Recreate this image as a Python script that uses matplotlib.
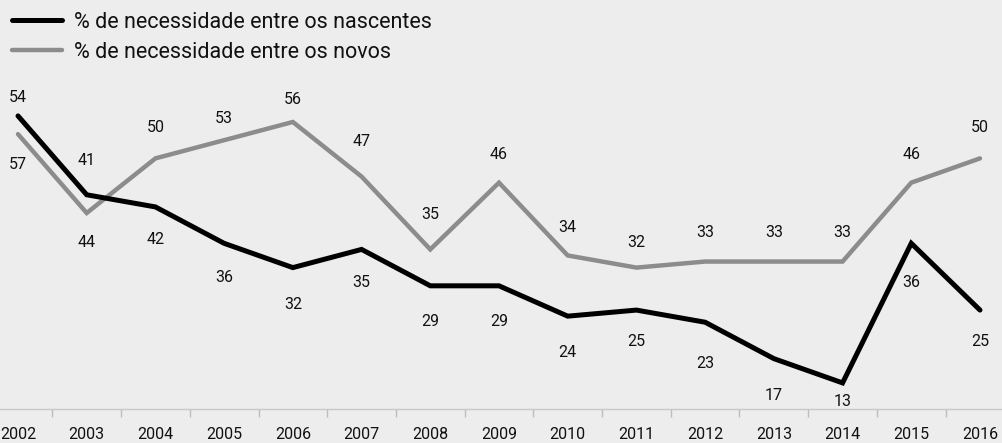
import matplotlib.pyplot as plt
import numpy as np

plt.rcParams['font.family'] = ['Roboto', 'DejaVu Sans']

anos = [2002, 2003, 2004, 2005, 2006, 2007, 2008, 2009, 2010, 2011, 2012, 2013, 2014, 2015, 2016]
nascentes = [57, 44, 42, 36, 32, 35, 29, 29, 24, 25, 23, 17, 13, 36, 25]
novos = [54, 41, 50, 53, 56, 47, 35, 46, 34, 32, 33, 33, 33, 46, 50]

# deslocamento vertical (pixels) dos rótulos de cada série
desl_nascentes = [-49, -48, -33, -34, -37, -33, -36, -36, -36, -31, -41, -37, -19, -39, -31]
desl_novos = [37, 52, 31, 22, 22, 35, 35, 28, 28, 25, 29, 29, 29, 28, 31]

fundo = '#ededed'
cinza = '#8c8c8c'

fig = plt.figure(figsize=(10.02, 4.43), dpi=100, facecolor=fundo)
ax = fig.add_axes([0, 34 / 443, 1, 409 / 443])
ax.set_facecolor(fundo)

x = np.arange(len(anos))
ax.plot(x, novos, color=cinza, lw=3.2, solid_joinstyle='miter', solid_capstyle='round',
        label='% de necessidade entre os novos', zorder=2)
ax.plot(x, nascentes, color='black', lw=3.6, solid_joinstyle='miter', solid_capstyle='round',
        label='% de necessidade entre os nascentes', zorder=3)

for i in range(len(anos)):
    ax.annotate(str(novos[i]), (x[i], novos[i]), xytext=(0, desl_novos[i]),
                textcoords='offset pixels', ha='center', va='center', fontsize=11.5, color='#111111')
    ax.annotate(str(nascentes[i]), (x[i], nascentes[i]), xytext=(0, desl_nascentes[i]),
                textcoords='offset pixels', ha='center', va='center', fontsize=11.5, color='#111111')

ax.set_xlim(-18 / 68.7, len(anos) - 1 + 22 / 68.7)
ax.set_ylim(8.7, 76.1)

# eixo x: marcas entre os anos, rótulos no centro
ax.set_xticks(x)
ax.set_xticklabels([str(a) for a in anos], fontsize=11.5, color='#111111')
ax.set_xticks(x[:-1] + 0.5, minor=True)
ax.tick_params(axis='x', which='major', length=0, pad=13)
ax.tick_params(axis='x', which='minor', length=6, width=1, color='#bdbdbd', direction='out')
ax.set_yticks([])
for lado in ['top', 'right', 'left']:
    ax.spines[lado].set_visible(False)
ax.spines['bottom'].set_color('#c8c8c8')
ax.spines['bottom'].set_linewidth(1)

handles, labels = ax.get_legend_handles_labels()
leg = fig.legend(handles[::-1], labels[::-1], loc='upper left', bbox_to_anchor=(0.012, 0.974),
                 frameon=False, fontsize=15.5, handlelength=2.3, handletextpad=0.6,
                 labelspacing=0.42, borderaxespad=0, borderpad=0)
for t in leg.get_texts():
    t.set_color('#111111')

fig.savefig('out.png', dpi=100, facecolor=fundo)
